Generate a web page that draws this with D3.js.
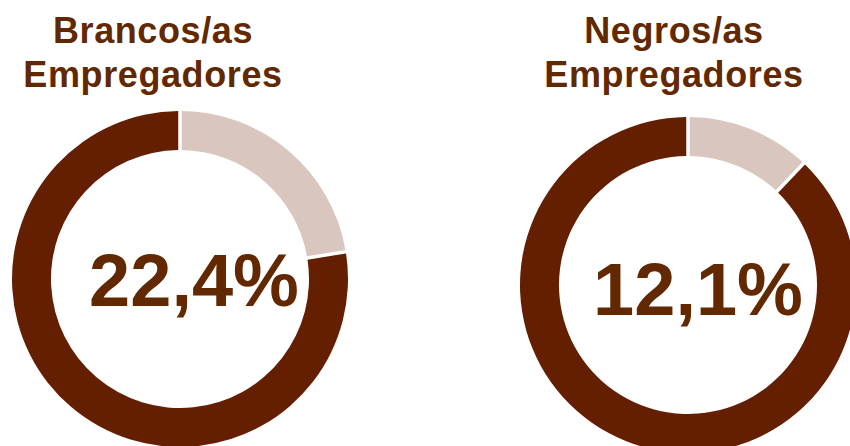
<!DOCTYPE html>
<html>
<head>
<meta charset="utf-8">
<script src="https://cdn.jsdelivr.net/npm/d3@7"></script>
<style>
  html, body { margin: 0; padding: 0; background: #fff; }
  svg { display: block; }
  text { font-family: "Liberation Sans", Arial, sans-serif; font-weight: bold; }
</style>
</head>
<body>
<svg id="chart" width="850" height="446"></svg>
<script>
// Share of employers in each group (percent)
const groups = ["Brancos/as", "Negros/as"];
const titleLine2 = ["Empregadores", "Empregadores"];
const shares = [22.4, 12.1];
const shareLabels = ["22,4%", "12,1%"];

const W = 850, H = 446;
const svg = d3.select("#chart");

const darkColor = "#641e00";
const lightColor = "#d9c6bf";
const textColor = "#622800";

const outerR = 168, innerR = 129;

// panel layout: ring centre, title centre, label centre
const panels = [
  { cx: 180, cy: 279, tx: 153, lx: 194, ly: 306 },
  { cx: 688, cy: 285, tx: 674, lx: 698, ly: 315 }
];

const pie = d3.pie().sort(null).value(d => d.v);
const arc = d3.arc()
  .innerRadius(innerR)
  .outerRadius(outerR)
  .padRadius(outerR)
  .padAngle(3.5 / outerR);

groups.forEach((g, i) => {
  const p = panels[i];
  const data = [
    { key: "share", v: shares[i] },
    { key: "rest", v: 100 - shares[i] }
  ];

  const gRing = svg.append("g").attr("transform", `translate(${p.cx},${p.cy})`);
  gRing.selectAll("path")
    .data(pie(data))
    .join("path")
    .attr("d", arc)
    .attr("fill", d => d.data.key === "share" ? lightColor : darkColor);

  const title = svg.append("text")
    .attr("text-anchor", "middle")
    .attr("font-size", 36)
    .attr("letter-spacing", 0.6)
    .attr("fill", textColor);
  title.append("tspan").attr("x", p.tx).attr("y", 43).text(g);
  title.append("tspan").attr("x", p.tx).attr("y", 87).text(titleLine2[i]);

  svg.append("text")
    .attr("x", p.lx).attr("y", p.ly)
    .attr("text-anchor", "middle")
    .attr("font-size", 74)
    .attr("fill", textColor)
    .text(shareLabels[i]);
});
</script>
</body>
</html>
